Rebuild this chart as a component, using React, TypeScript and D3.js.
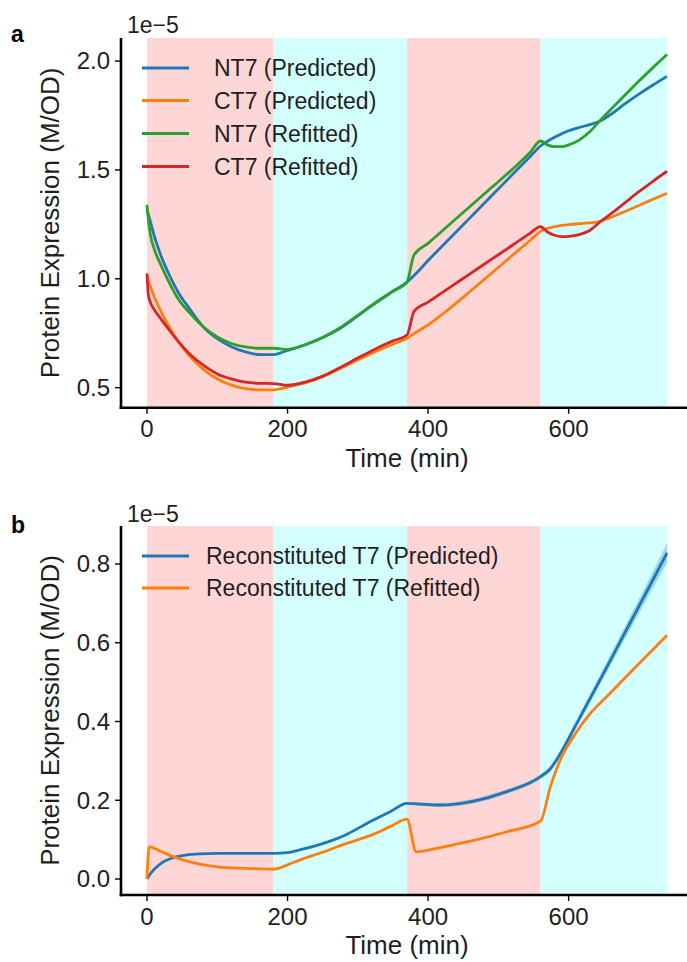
import React from 'react';
import * as d3 from 'd3';

// ---------- data (values in units of 1e-5 M/OD) ----------
const phaseStart = [0, 180, 370, 560];
const phaseEnd = [180, 370, 560, 740];
const phaseKind = ['red', 'cyan', 'red', 'cyan'];

const xTicks = [0, 200, 400, 600];
const yTicksA = [0.5, 1.0, 1.5, 2.0];
const yTicksB = [0.0, 0.2, 0.4, 0.6, 0.8];

const timeA = [0, 2, 5, 10, 20, 30, 45, 60, 80, 100, 120, 140, 160, 180, 200, 225, 250, 275, 300, 325, 350, 370, 380, 400, 430, 460, 490, 520, 545, 560, 570, 580, 590, 600, 615, 630, 645, 660, 680, 700, 720, 740];
const nt7Predicted = [1.32, 1.295, 1.26, 1.2, 1.105, 1.03, 0.935, 0.865, 0.78, 0.725, 0.688, 0.664, 0.652, 0.652, 0.671, 0.697, 0.73, 0.773, 0.83, 0.888, 0.942, 0.985, 1.015, 1.084, 1.183, 1.281, 1.38, 1.479, 1.561, 1.61, 1.632, 1.65, 1.666, 1.68, 1.695, 1.708, 1.725, 1.755, 1.803, 1.848, 1.89, 1.93];
const ct7Predicted = [1.01, 0.99, 0.962, 0.92, 0.849, 0.788, 0.71, 0.647, 0.585, 0.54, 0.512, 0.496, 0.49, 0.49, 0.503, 0.522, 0.55, 0.588, 0.627, 0.665, 0.7, 0.727, 0.748, 0.788, 0.862, 0.943, 1.025, 1.108, 1.176, 1.218, 1.232, 1.24, 1.245, 1.249, 1.253, 1.257, 1.264, 1.282, 1.309, 1.337, 1.365, 1.393];
const nt7Refitted = [1.34, 1.27, 1.2, 1.14, 1.062, 0.993, 0.905, 0.846, 0.78, 0.733, 0.703, 0.687, 0.681, 0.681, 0.676, 0.697, 0.73, 0.775, 0.832, 0.89, 0.944, 0.985, 1.11, 1.163, 1.248, 1.333, 1.418, 1.503, 1.58, 1.633, 1.615, 1.607, 1.607, 1.615, 1.637, 1.675, 1.728, 1.778, 1.843, 1.908, 1.97, 2.03];
const ct7Refitted = [1.025, 0.925, 0.89, 0.86, 0.815, 0.772, 0.71, 0.657, 0.603, 0.563, 0.54, 0.525, 0.52, 0.519, 0.511, 0.525, 0.553, 0.593, 0.636, 0.678, 0.715, 0.742, 0.85, 0.893, 0.958, 1.024, 1.089, 1.154, 1.209, 1.24, 1.215, 1.2, 1.194, 1.195, 1.203, 1.222, 1.262, 1.298, 1.349, 1.4, 1.448, 1.494];

const timeB = [0, 3, 10, 20, 35, 52, 75, 100, 140, 180, 200, 220, 250, 280, 320, 346, 370, 383, 417, 465, 512, 560, 574, 588, 607, 631, 654, 688, 720, 740];
const reconPredicted = [0, 0.009, 0.024, 0.04, 0.053, 0.06, 0.064, 0.065, 0.065, 0.065, 0.067, 0.075, 0.09, 0.11, 0.148, 0.171, 0.192, 0.191, 0.188, 0.198, 0.222, 0.26, 0.28, 0.318, 0.38, 0.46, 0.537, 0.652, 0.76, 0.828];
const reconPredictedSpread = [0, 0.001, 0.001, 0.001, 0.001, 0.001, 0.001, 0.001, 0.001, 0.001, 0.001, 0.002, 0.002, 0.002, 0.003, 0.003, 0.003, 0.004, 0.005, 0.006, 0.006, 0.006, 0.007, 0.008, 0.009, 0.011, 0.013, 0.017, 0.021, 0.025];
const reconRefitted = [0, 0.082, 0.078, 0.07, 0.058, 0.048, 0.038, 0.031, 0.027, 0.025, 0.036, 0.05, 0.068, 0.088, 0.112, 0.133, 0.152, 0.069, 0.08, 0.098, 0.12, 0.147, 0.234, 0.302, 0.362, 0.421, 0.463, 0.525, 0.583, 0.619];

const labelsA = ['NT7 (Predicted)', 'CT7 (Predicted)', 'NT7 (Refitted)', 'CT7 (Refitted)'];
const labelsB = ['Reconstituted T7 (Predicted)', 'Reconstituted T7 (Refitted)'];
const colors = ['#1f77b4', '#ff7f0e', '#2ca02c', '#d62728'];
const shadeColors: Record<string, string> = { red: '#ffd6d6', cyan: '#d4ffff' };

const FONT = '"Liberation Sans", Arial, Helvetica, sans-serif';
const TEXT = '#1e1e1e';

type PanelProps = {
  letter: string;
  top: number;
  bottom: number;
  yDomain: [number, number];
  yTicks: number[];
  series: { label: string; color: string; t: number[]; v: number[] }[];
  band?: { t: number[]; v: number[]; s: number[]; color: string };
  legendTextX: number;
  legendY: number[];
  tickBaseline: number;
  labelBaseline: number;
  offsetBaseline: number;
  letterBaseline: number;
};

function Panel(p: PanelProps) {
  const x = d3.scaleLinear().domain([-37, 777]).range([121, 693]);
  const y = d3.scaleLinear().domain(p.yDomain).range([p.bottom, p.top]);
  const line = d3
    .line<[number, number]>()
    .x((d) => x(d[0]))
    .y((d) => y(d[1]))
    .curve(d3.curveMonotoneX);
  const area = d3
    .area<[number, number, number]>()
    .x((d) => x(d[0]))
    .y0((d) => y(d[1] - d[2]))
    .y1((d) => y(d[1] + d[2]))
    .curve(d3.curveMonotoneX);
  const left = x.range()[0];
  return (
    <g>
      {phaseStart.map((s, i) => (
        <rect
          key={'ph' + i}
          x={x(s)}
          y={p.top}
          width={x(phaseEnd[i]) - x(s)}
          height={p.bottom - p.top}
          fill={shadeColors[phaseKind[i]]}
        />
      ))}
      {p.band && (
        <path
          d={area(p.band.t.map((t, i) => [t, p.band!.v[i], p.band!.s[i]] as [number, number, number])) || ''}
          fill={p.band.color}
          opacity={0.3}
        />
      )}
      {p.series.map((s) => (
        <path
          key={s.label}
          d={line(s.t.map((t, i) => [t, s.v[i]] as [number, number])) || ''}
          fill="none"
          stroke={s.color}
          strokeWidth={2.8}
          strokeLinejoin="round"
          strokeLinecap="butt"
        />
      ))}
      {/* spines */}
      <line x1={left} x2={left} y1={p.top} y2={p.bottom + 1.3} stroke="#000" strokeWidth={2.6} />
      <line x1={left - 1.3} x2={693} y1={p.bottom} y2={p.bottom} stroke="#000" strokeWidth={2.6} />
      {/* y ticks */}
      {p.yTicks.map((t) => (
        <g key={'yt' + t}>
          <line x1={left - 6} x2={left} y1={y(t)} y2={y(t)} stroke="#000" strokeWidth={1.4} />
          <text
            x={left - 11}
            y={y(t)}
            dy="0.35em"
            textAnchor="end"
            fontFamily={FONT}
            fontSize={24}
            fill={TEXT}
          >
            {d3.format('.1f')(t)}
          </text>
        </g>
      ))}
      {/* x ticks */}
      {xTicks.map((t) => (
        <g key={'xt' + t}>
          <line x1={x(t)} x2={x(t)} y1={p.bottom} y2={p.bottom + 6} stroke="#000" strokeWidth={1.4} />
          <text x={x(t)} y={p.tickBaseline} textAnchor="middle" fontFamily={FONT} fontSize={24} fill={TEXT}>
            {t}
          </text>
        </g>
      ))}
      <text x={407} y={p.labelBaseline} textAnchor="middle" fontFamily={FONT} fontSize={26} fill={TEXT}>
        Time (min)
      </text>
      <text
        transform={`translate(50, ${(p.top + p.bottom) / 2}) rotate(-90)`}
        dy="0.35em"
        textAnchor="middle"
        fontFamily={FONT}
        fontSize={26}
        fill={TEXT}
      >
        Protein Expression (M/OD)
      </text>
      <text x={127} y={p.offsetBaseline} fontFamily={FONT} fontSize={23} fill={TEXT}>
        1e−5
      </text>
      <text x={11} y={p.letterBaseline} fontFamily={FONT} fontSize={23} fontWeight="bold" fill="#000">
        {p.letter}
      </text>
      {/* legend */}
      {p.series.map((s, i) => (
        <g key={'lg' + i}>
          <line x1={142} x2={189} y1={p.legendY[i]} y2={p.legendY[i]} stroke={s.color} strokeWidth={2.8} />
          <text
            x={p.legendTextX}
            y={p.legendY[i]}
            dy="0.35em"
            fontFamily={FONT}
            fontSize={23}
            fill={TEXT}
          >
            {s.label}
          </text>
        </g>
      ))}
    </g>
  );
}

export default function App() {
  const seriesA = [nt7Predicted, ct7Predicted, nt7Refitted, ct7Refitted].map((v, i) => ({
    label: labelsA[i],
    color: colors[i],
    t: timeA,
    v,
  }));
  const seriesB = [reconPredicted, reconRefitted].map((v, i) => ({
    label: labelsB[i],
    color: colors[i],
    t: timeB,
    v,
  }));
  return (
    <svg
      width={687}
      height={962}
      style={{ position: 'absolute', left: 0, top: 0, background: '#fff' }}
    >
      <rect x={0} y={0} width={687} height={962} fill="#fff" />
      <Panel
        letter="a"
        top={38}
        bottom={407.7}
        yDomain={[0.408, 2.106]}
        yTicks={yTicksA}
        series={seriesA}
        legendTextX={214}
        legendY={[68, 100.5, 133.5, 166.5]}
        tickBaseline={437}
        labelBaseline={467}
        offsetBaseline={33}
        letterBaseline={42}
      />
      <Panel
        letter="b"
        top={526}
        bottom={895}
        yDomain={[-0.0406, 0.8965]}
        yTicks={yTicksB}
        series={seriesB}
        band={{ t: timeB, v: reconPredicted, s: reconPredictedSpread, color: '#1f77b4' }}
        legendTextX={206}
        legendY={[556, 588]}
        tickBaseline={925}
        labelBaseline={954}
        offsetBaseline={522}
        letterBaseline={533}
      />
    </svg>
  );
}
